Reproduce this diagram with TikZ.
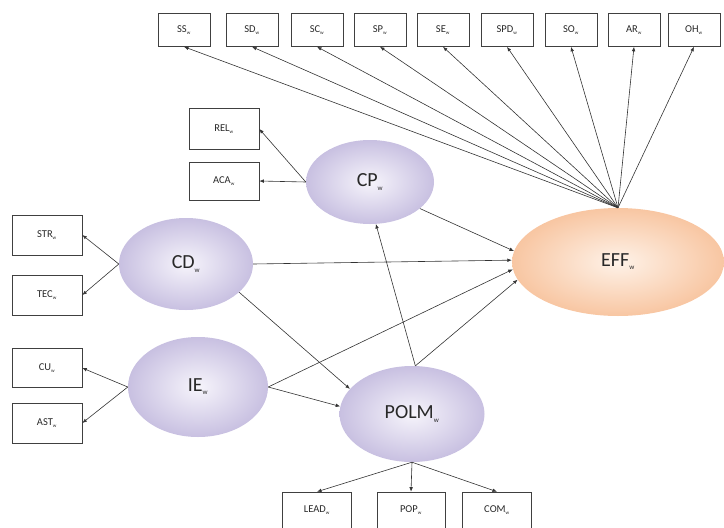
\documentclass[tikz,border=0pt]{standalone}
\usepackage{fontspec}
\setmainfont{Carlito}
\usetikzlibrary{arrows.meta,shapes.geometric}
\definecolor{lavin}{RGB}{246,244,251}
\definecolor{lavout}{RGB}{200,192,225}
\definecolor{pchin}{RGB}{254,242,232}
\definecolor{pchout}{RGB}{248,198,162}
\definecolor{txt}{RGB}{40,40,40}
\begin{document}
\begin{tikzpicture}[x=1pt,y=-1pt,
  ind/.style={draw=black!75, line width=0.6pt, fill=white, minimum width=52pt,
    minimum height=33pt, inner sep=0pt, text=txt, font=\fontsize{10.5}{12}\selectfont},
  lat/.style={ellipse, inner color=lavin, outer color=lavout, inner sep=0pt,
    text=txt, font=\fontsize{20}{22}\selectfont},
  arr/.style={-{Latex[length=4.5pt,width=3.6pt]}, line width=0.6pt, draw=black!80}]
\useasboundingbox (0,0) rectangle (724,528);
% latent variables
\node[lat, minimum width=128pt, minimum height=84pt] (cp) at (370,182) {CP\textsubscript{\fontsize{7}{8}\selectfont w}};
\node[lat, minimum width=134pt, minimum height=92pt] (cd) at (186,264) {CD\textsubscript{\fontsize{7}{8}\selectfont w}};
\node[lat, minimum width=140pt, minimum height=100pt] (ie) at (198,387) {IE\textsubscript{\fontsize{7}{8}\selectfont w}};
\node[lat, minimum width=145pt, minimum height=96pt] (polm) at (412,414) {POLM\textsubscript{\fontsize{7}{8}\selectfont w}};
\node[ellipse, inner color=pchin, outer color=pchout, inner sep=0pt, text=txt,
  minimum width=212pt, minimum height=108pt, font=\fontsize{20}{22}\selectfont] (eff) at (618,262) {EFF\textsubscript{\fontsize{7}{8}\selectfont w}};
% top indicators
\node[ind] (ss) at (184,30) {SS\textsubscript{\fontsize{5}{6}\selectfont w}};
\node[ind] (sd) at (252,30) {SD\textsubscript{\fontsize{5}{6}\selectfont w}};
\node[ind] (sc) at (317,30) {SC\textsubscript{\fontsize{5}{6}\selectfont w}};
\node[ind] (sp) at (380,30) {SP\textsubscript{\fontsize{5}{6}\selectfont w}};
\node[ind] (se) at (443,30) {SE\textsubscript{\fontsize{5}{6}\selectfont w}};
\node[ind] (spd) at (507,30) {SPD\textsubscript{\fontsize{5}{6}\selectfont w}};
\node[ind] (so) at (571,30) {SO\textsubscript{\fontsize{5}{6}\selectfont w}};
\node[ind] (ar) at (634,30) {AR\textsubscript{\fontsize{5}{6}\selectfont w}};
\node[ind] (oh) at (694,30) {OH\textsubscript{\fontsize{5}{6}\selectfont w}};
% CP indicators
\node[ind, minimum width=70pt, minimum height=41pt] (rel) at (224,129) {REL\textsubscript{\fontsize{5}{6}\selectfont w}};
\node[ind, minimum width=70pt, minimum height=38pt] (aca) at (224,181) {ACA\textsubscript{\fontsize{5}{6}\selectfont w}};
% CD indicators
\node[ind, minimum width=70pt, minimum height=40pt] (str) at (47,235) {STR\textsubscript{\fontsize{5}{6}\selectfont w}};
\node[ind, minimum width=70pt, minimum height=40pt] (tec) at (47,295) {TEC\textsubscript{\fontsize{5}{6}\selectfont w}};
% IE indicators
\node[ind, minimum width=70pt, minimum height=39pt] (cu) at (47,368) {CU\textsubscript{\fontsize{5}{6}\selectfont w}};
\node[ind, minimum width=70pt, minimum height=40pt] (ast) at (47,423) {AST\textsubscript{\fontsize{5}{6}\selectfont w}};
% POLM indicators
\node[ind, minimum width=69pt, minimum height=36pt] (lead) at (317,510) {LEAD\textsubscript{\fontsize{5}{6}\selectfont w}};
\node[ind, minimum width=68pt, minimum height=36pt] (pop) at (411,510) {POP\textsubscript{\fontsize{5}{6}\selectfont w}};
\node[ind, minimum width=69pt, minimum height=36pt] (com) at (497,510) {COM\textsubscript{\fontsize{5}{6}\selectfont w}};
% EFF -> top indicators
\foreach \n in {ss,sd,sc,sp,se,spd,so,ar,oh}
  \draw[arr] (eff.north) -- (\n.south);
% measurement arrows
\draw[arr] (cp.west) -- (rel.east);
\draw[arr] (cp.west) -- (aca.east);
\draw[arr] (cd.west) -- (str.east);
\draw[arr] (cd.west) -- (tec.east);
\draw[arr] (ie.west) -- (cu.east);
\draw[arr] (ie.west) -- (ast.east);
\draw[arr] (polm.south) -- (lead.north);
\draw[arr] (polm.south) -- (pop.north);
\draw[arr] (polm.south) -- (com.north);
% structural arrows
\draw[arr] (cp.-28) -- (eff.174);
\draw[arr] (cd.east) -- (eff.179);
\draw[arr] (cd.-28) -- (polm.158);
\draw[arr] (ie.east) -- (polm.174);
\draw[arr] (ie.east) -- (eff.184);
\draw[arr] (polm.86) -- (cp.-82);
\draw[arr] (polm.86) -- (eff.190);
\end{tikzpicture}
\end{document}
